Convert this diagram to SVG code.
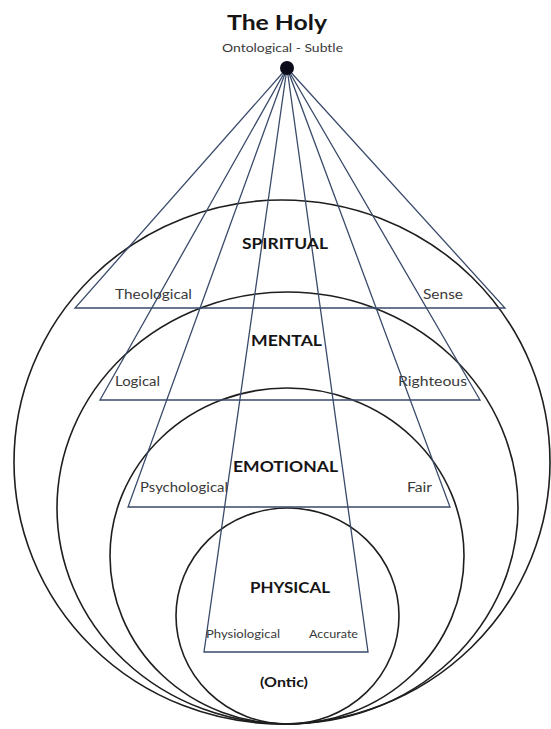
<svg xmlns="http://www.w3.org/2000/svg" width="551" height="729" viewBox="0 0 551 729">
<style>
  .ring { fill: none; stroke: #1e1e1e; stroke-width: 1.6; }
  .tri { fill: none; stroke: #3a4a6a; stroke-width: 1.3; stroke-linejoin: miter; }
  .big { font-family: Lato, "Open Sans", "Liberation Sans", sans-serif; font-weight: bold; fill: #151515; }
  .lbl { font-family: Lato, "Open Sans", "Liberation Sans", sans-serif; fill: #3a3a3a; }
</style>
<rect width="551" height="729" fill="#ffffff"/>

<g id="title">
  <text class="big" x="227" y="30" font-size="21" textLength="100" lengthAdjust="spacingAndGlyphs">The Holy</text>
  <text class="lbl" x="222" y="52" font-size="11" textLength="121" lengthAdjust="spacingAndGlyphs">Ontological - Subtle</text>
</g>

<g id="rings">
  <ellipse id="ring-spiritual" class="ring" cx="282" cy="462" rx="268" ry="262"/>
  <ellipse id="ring-mental" class="ring" cx="287.5" cy="508" rx="230.5" ry="216"/>
  <ellipse id="ring-emotional" class="ring" cx="287" cy="556" rx="177" ry="168"/>
  <ellipse id="ring-physical" class="ring" cx="287.5" cy="616" rx="111.5" ry="108"/>
</g>

<g id="connectors">
  <polygon class="tri" points="287,68 75,308 505,308"/>
  <polygon class="tri" points="287,68 100,400 480,400"/>
  <polygon class="tri" points="287,68 128,507 450,507"/>
  <polygon class="tri" points="287,68 204,652 368,652"/>
</g>

<g id="apex">
  <circle cx="287" cy="68" r="7" fill="#0b0b1a"/>
</g>

<g id="spiritual">
  <text class="big" x="242" y="249" font-size="15" textLength="86" lengthAdjust="spacingAndGlyphs">SPIRITUAL</text>
  <text class="lbl" x="115" y="299" font-size="12.5" textLength="77" lengthAdjust="spacingAndGlyphs">Theological</text>
  <text class="lbl" x="423" y="299" font-size="12.5" textLength="40" lengthAdjust="spacingAndGlyphs">Sense</text>
</g>

<g id="mental">
  <text class="big" x="251" y="346" font-size="15" textLength="71" lengthAdjust="spacingAndGlyphs">MENTAL</text>
  <text class="lbl" x="115" y="386" font-size="12.5" textLength="45" lengthAdjust="spacingAndGlyphs">Logical</text>
  <text class="lbl" x="398" y="386" font-size="12.5" textLength="69" lengthAdjust="spacingAndGlyphs">Righteous</text>
</g>

<g id="emotional">
  <text class="big" x="233" y="472" font-size="15" textLength="105" lengthAdjust="spacingAndGlyphs">EMOTIONAL</text>
  <text class="lbl" x="140" y="492" font-size="12.5" textLength="88" lengthAdjust="spacingAndGlyphs">Psychological</text>
  <text class="lbl" x="407" y="492" font-size="12.5" textLength="25" lengthAdjust="spacingAndGlyphs">Fair</text>
</g>

<g id="physical">
  <text class="big" x="250" y="593" font-size="15" textLength="80" lengthAdjust="spacingAndGlyphs">PHYSICAL</text>
  <text class="lbl" x="206" y="638" font-size="11" textLength="74" lengthAdjust="spacingAndGlyphs">Physiological</text>
  <text class="lbl" x="309" y="638" font-size="11" textLength="49" lengthAdjust="spacingAndGlyphs">Accurate</text>
  <text class="big" x="260" y="687" font-size="13" textLength="48" lengthAdjust="spacingAndGlyphs" fill="#2a2a2a">(Ontic)</text>
</g>
</svg>
